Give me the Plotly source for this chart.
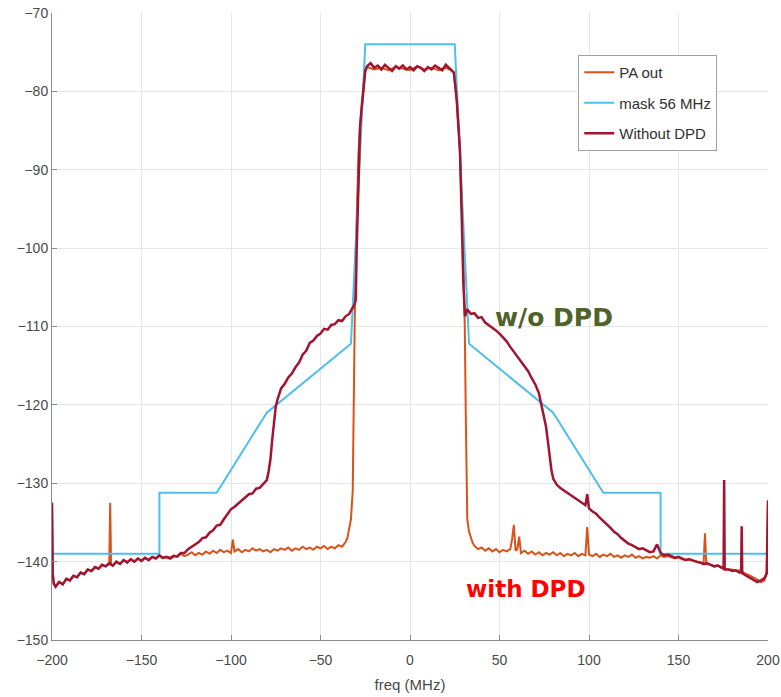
import plotly.graph_objects as go

# ---------------- data ----------------
# mask 56 MHz : (freq MHz, level dB)
mask_pts = [(-200, -139), (-140, -139), (-140, -131.2), (-108, -131.2), (-80, -121), (-33, -112.2),
            (-25, -74), (25, -74), (33, -112.2), (80, -121), (108, -131.2), (140, -131.2),
            (140, -139), (200, -139)]

# Without DPD : (freq MHz, level dB)
wo_pts = [
    (-200, -132.5), (-199.6, -141.5), (-199, -142.8), (-198, -143.2), (-196, -142.6), (-194, -142.9),
    (-192, -142.2), (-190, -142.4), (-188, -141.8), (-186, -142.0), (-184, -141.4), (-182, -141.6),
    (-180, -141.0), (-178, -141.2), (-176, -140.7), (-174, -140.9), (-172, -140.4), (-170, -140.6),
    (-168, -140.2), (-166, -140.5), (-164, -140.0), (-162, -140.3), (-160, -139.8), (-158, -140.1),
    (-156, -139.7), (-154, -140.0), (-152, -139.6), (-150, -139.9), (-148, -139.5), (-146, -139.8),
    (-144, -139.4), (-142, -139.6), (-140, -139.2), (-138, -139.5), (-136, -139.4), (-134, -139.6),
    (-132, -139.3), (-130, -139.3), (-128, -138.9), (-126, -138.9), (-124, -138.4), (-122, -138.1),
    (-120, -137.8), (-118, -137.5), (-116, -137.0), (-114, -136.9), (-112, -136.3), (-110, -136.0),
    (-108, -135.4), (-106, -135.3), (-104, -134.6), (-102, -134.0), (-100, -133.3), (-98, -133.0),
    (-96, -132.6), (-94, -132.3), (-92, -131.9), (-90, -131.4), (-88, -131.3), (-86, -130.7),
    (-84, -130.6), (-82, -130.1), (-80, -129.6), (-79, -128.5), (-78, -127.0), (-77, -124.5),
    (-76, -122.0), (-75, -120.2), (-74, -119.3), (-73, -118.6), (-72, -117.9), (-70, -117.3),
    (-68, -116.5), (-66, -116.0), (-64, -115.2), (-62, -114.6), (-60, -113.6), (-58, -113.1),
    (-56, -112.1), (-54, -111.8), (-52, -111.2), (-50, -110.9), (-48, -110.3), (-46, -110.4),
    (-44, -109.8), (-42, -109.7), (-40, -109.2), (-38, -109.3), (-36, -108.7), (-34, -108.4),
    (-33, -107.9), (-32, -107.6), (-31, -107.2), (-30.3, -106.6), (-29.8, -100.2), (-28.8, -91.7),
    (-27.9, -84.5), (-27, -82.0), (-26, -79.5), (-25, -77.4), (-24, -76.8), (-22, -76.4),
    (-20, -77.0), (-18, -76.7), (-16, -77.2), (-14, -76.6), (-12, -77.0), (-10, -77.4), (-8, -76.8),
    (-6, -77.1), (-4, -76.7), (-2, -77.2), (0, -76.9), (2, -77.3), (4, -76.8), (6, -77.0),
    (8, -77.4), (10, -76.9), (12, -77.2), (14, -76.7), (16, -77.0), (18, -77.3), (20, -76.6),
    (22, -77.1), (23.3, -77.3), (24.5, -77.6), (26.1, -81.1), (27.9, -87.5), (28.9, -96.0),
    (29.8, -104.5), (30.7, -108.7), (32, -107.8), (34, -108.4), (36, -108.3), (38, -108.9),
    (40, -108.8), (42, -109.5), (44, -109.8), (46, -110.2), (48, -110.5), (50, -110.9),
    (52, -111.4), (54, -111.9), (56, -112.6), (58, -113.2), (60, -113.8), (62, -114.4),
    (64, -115.1), (66, -115.7), (68, -116.6), (70, -117.4), (72, -118.5), (73, -119.6),
    (74, -120.6), (75, -121.7), (76, -122.8), (77, -124.6), (78, -126.5), (79, -128.3),
    (80, -129.4), (82, -130.2), (84, -130.6), (86, -130.9), (88, -131.3), (90, -131.5),
    (92, -131.9), (94, -132.2), (96, -132.5), (98, -132.8), (99, -131.4), (100, -133.2),
    (102, -133.6), (104, -133.9), (106, -134.4), (108, -134.8), (110, -135.3), (112, -135.7),
    (114, -136.2), (116, -136.5), (118, -137.0), (120, -137.4), (122, -137.7), (124, -137.9),
    (126, -138.1), (128, -138.4), (130, -138.3), (132, -138.6), (134, -138.8), (136, -138.7),
    (138, -137.8), (140, -138.9), (142, -139.2), (144, -139.1), (146, -139.3), (148, -139.5),
    (150, -139.4), (152, -139.6), (154, -139.8), (156, -139.7), (158, -139.9), (160, -140.0),
    (162, -140.1), (164, -140.3), (166, -140.2), (168, -140.4), (170, -140.6), (172, -140.5),
    (174, -140.8), (175.2, -140.9), (175.5, -129.6), (175.8, -141.0), (178, -141.0),
    (180, -141.2), (182, -141.1), (184, -141.4), (185, -141.3), (185.3, -135.5), (185.6, -141.5),
    (188, -141.8), (190, -142.0), (192, -142.3), (194, -142.6), (196, -142.4), (198, -142.1),
    (199.3, -141.5), (199.6, -132.4), (200, -132.2),
]

# PA out : (freq MHz, level dB)
pa_pts = [
    (-200, -132.5), (-199.6, -141.5), (-199, -142.8), (-198, -143.2), (-196, -142.6), (-194, -142.9),
    (-192, -142.2), (-190, -142.4), (-188, -141.8), (-186, -142.0), (-184, -141.4), (-182, -141.6),
    (-180, -141.0), (-178, -141.2), (-176, -140.7), (-174, -140.9), (-172, -140.4), (-170, -140.6),
    (-168, -140.3), (-167.5, -132.5), (-167, -140.4), (-166, -140.5), (-164, -140.0),
    (-162, -140.3), (-160, -139.8), (-158, -140.1), (-156, -139.7), (-154, -140.0), (-152, -139.6),
    (-150, -139.9), (-148, -139.5), (-146, -139.8), (-144, -139.4), (-142, -139.6), (-140, -139.3),
    (-138, -139.6), (-136, -139.4), (-134, -139.5), (-132, -139.2), (-130, -139.4), (-128, -139.0),
    (-126, -139.3), (-124, -139.1), (-122, -138.8), (-120, -139.2), (-118, -138.9), (-116, -139.1),
    (-114, -138.7), (-112, -139.0), (-110, -138.6), (-108, -138.9), (-106, -138.5), (-104, -138.8),
    (-102, -138.6), (-100, -138.9), (-99, -137.2), (-98, -138.7), (-96, -138.4), (-94, -138.8),
    (-92, -138.5), (-90, -138.7), (-88, -138.3), (-86, -138.6), (-84, -138.4), (-82, -138.7),
    (-80, -138.5), (-78, -138.8), (-76, -138.4), (-74, -138.6), (-72, -138.3), (-70, -138.5),
    (-68, -138.2), (-66, -138.6), (-64, -138.3), (-62, -138.5), (-60, -138.1), (-58, -138.4),
    (-56, -138.2), (-54, -138.5), (-52, -138.1), (-50, -138.3), (-48, -138.0), (-46, -138.4),
    (-44, -138.1), (-42, -138.3), (-40, -137.9), (-38, -138.1), (-36, -137.5), (-35, -137.0),
    (-34, -136.0), (-33, -134.6), (-32, -131.0), (-31.5, -122.0), (-31.2, -110.0),
    (-30.6, -104.0), (-30.1, -99.0), (-29.6, -93.0), (-28.8, -88.0), (-27.9, -84.5),
    (-27, -82.0), (-26, -79.5), (-25, -77.4), (-24, -76.9), (-20, -77.2), (-16, -77.0),
    (-12, -77.3), (-8, -76.9), (-4, -77.1), (0, -77.3), (4, -76.8), (8, -77.2), (12, -77.0),
    (16, -77.3), (20, -77.0), (23.3, -77.3), (24.5, -77.6), (26.1, -81.1), (27.9, -87.5),
    (28.9, -94.0), (29.6, -100.0), (30.1, -105.0), (30.6, -110.0), (31.2, -122.0),
    (31.5, -131.0), (32, -134.6), (33, -136.2), (34, -137.0), (35, -137.6), (36, -138.0),
    (38, -138.4), (40, -138.2), (42, -138.6), (44, -138.3), (46, -138.7), (48, -138.4),
    (50, -138.8), (52, -138.5), (54, -138.7), (56, -138.4), (57, -137.2), (58, -135.3),
    (59, -138.6), (60, -138.4), (61, -136.8), (62, -138.9), (64, -138.6), (66, -139.0),
    (68, -138.7), (70, -139.1), (72, -138.8), (74, -139.2), (76, -138.9), (78, -139.1),
    (80, -138.8), (82, -139.2), (84, -138.9), (86, -139.3), (88, -139.0), (90, -139.2),
    (92, -138.9), (94, -139.3), (96, -139.0), (98, -139.2), (99, -135.6), (100, -139.1),
    (102, -139.3), (104, -139.0), (106, -139.4), (108, -139.1), (110, -139.3), (112, -139.0),
    (114, -139.4), (116, -139.2), (118, -139.5), (120, -139.2), (122, -139.4), (124, -139.1),
    (126, -139.5), (128, -139.3), (130, -139.6), (132, -139.4), (134, -139.5), (136, -139.3),
    (138, -139.6), (140, -139.2), (142, -139.4), (144, -139.3), (146, -139.5), (148, -139.6),
    (150, -139.4), (152, -139.7), (154, -139.8), (156, -139.7), (158, -139.9), (160, -140.0),
    (162, -140.1), (164, -140.3), (164.8, -136.4), (165.5, -140.3), (168, -140.4),
    (170, -140.6), (172, -140.5), (174, -140.8), (176, -140.9), (178, -141.0), (180, -141.0),
    (182, -141.2), (184, -141.1), (186, -141.4), (188, -141.6), (190, -141.8), (192, -142.0),
    (194, -142.3), (196, -142.6), (198, -142.4), (199.3, -141.5), (199.6, -132.4), (200, -132.2),
]

x_ticks = [-200, -150, -100, -50, 0, 50, 100, 150, 200]
y_ticks = [-150, -140, -130, -120, -110, -100, -90, -80, -70]


def unzip(pts):
    return [p[0] for p in pts], [p[1] for p in pts]


pa_freq, pa_level = unzip(pa_pts)
mask_freq, mask_level = unzip(mask_pts)
wo_freq, wo_level = unzip(wo_pts)

# ---------------- figure ----------------
fig = go.Figure()
fig.add_trace(go.Scatter(x=pa_freq, y=pa_level, mode="lines", name="PA out",
                         legendgroup="a", line=dict(color="#D95319", width=2)))
fig.add_trace(go.Scatter(x=mask_freq, y=mask_level, mode="lines", name="mask 56 MHz",
                         legendgroup="b", line=dict(color="#4DBEEE", width=2)))
fig.add_trace(go.Scatter(x=wo_freq, y=wo_level, mode="lines", name="Without DPD",
                         legendgroup="c", line=dict(color="#A2142F", width=2.5)))

fig.add_annotation(x=80.5, y=-108.85, text="<b>w/o DPD</b>", showarrow=False,
                   font=dict(family="DejaVu Sans", size=25, color="#4F6228"))
fig.add_annotation(x=64.6, y=-143.45, text="<b>with DPD</b>", showarrow=False,
                   font=dict(family="DejaVu Sans", size=23, color="#FF0000"))

axis_common = dict(showgrid=True, gridcolor="#E6E6E6", gridwidth=1, zeroline=False,
                   showline=True, linecolor="#8C8C8C", linewidth=1, ticks="inside",
                   ticklen=5, tickcolor="#8C8C8C", mirror=False, automargin=False,
                   ticklabeloverflow="allow",
                   tickfont=dict(family="Liberation Sans", size=14, color="#4A4A4A"))
fig.update_xaxes(range=[-200, 200], tickvals=x_ticks, ticklabelstandoff=7, **axis_common,
                 title=dict(text="freq (MHz)", font=dict(family="Liberation Sans", size=15,
                                                         color="#4A4A4A"), standoff=12))
fig.update_yaxes(range=[-150, -70], tickvals=y_ticks, **axis_common)

fig.update_layout(
    width=781, height=697,
    margin=dict(l=52, r=13, t=13, b=57),
    plot_bgcolor="white", paper_bgcolor="white",
    legend=dict(x=0.735, y=0.933, xanchor="left", yanchor="top", bgcolor="white",
                bordercolor="#A0A0A0", borderwidth=1, traceorder="grouped",
                tracegroupgap=8,
                font=dict(family="Liberation Sans", size=15, color="#303030")),
    showlegend=True,
)

# remove the default 8 px page margin so the figure fills the window exactly
fig.write_html("out.html", config={"displayModeBar": False},
               post_script="document.body.style.margin='0';")
